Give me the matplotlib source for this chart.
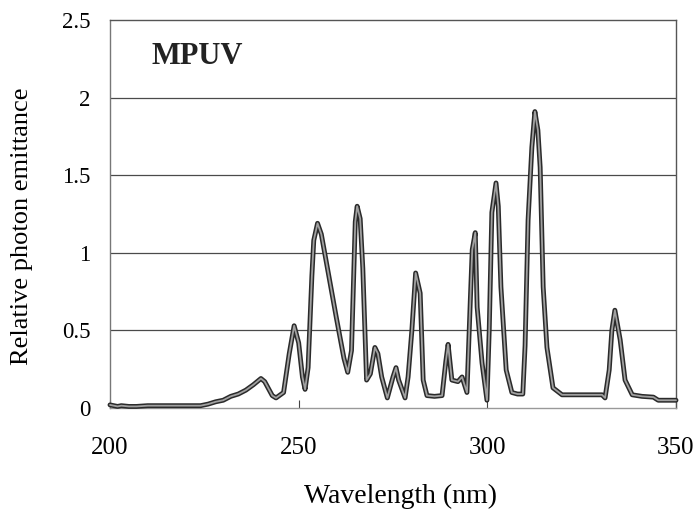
import matplotlib
matplotlib.use("Agg")
import matplotlib.pyplot as plt

wavelength = [200, 202, 203, 205, 207, 210, 215, 220, 224, 226, 228, 230, 232, 234, 236, 238,
              240, 241, 243, 244, 246, 247.5, 248.8, 250, 251, 251.7, 252.5, 253.5, 254, 255,
              256, 258, 260, 262, 263, 264, 265, 265.5, 266.3, 267, 268, 269, 270.2, 271, 272,
              273.5, 275, 275.8, 276.5, 278.2, 279, 280, 281, 282.2, 283, 284, 286, 288, 289,
              289.6, 290.6, 292.2, 293.3, 294.6, 295.5, 296, 296.8, 297.3, 298.6, 299.9, 300.5,
              301.2, 302.3, 302.9, 303.6, 305, 306.5, 308, 309.4, 310, 310.8, 311.8, 312.6,
              313.4, 314, 314.8, 315.8, 317.4, 319.8, 325, 330.4, 331.2, 332.3, 333, 333.8,
              335.2, 336.5, 338.4, 341, 344, 345.3, 350]
emittance = [0.02, 0.01, 0.015, 0.01, 0.01, 0.015, 0.015, 0.015, 0.015, 0.025, 0.04, 0.05, 0.075,
             0.09, 0.115, 0.15, 0.19, 0.17, 0.08, 0.065, 0.1, 0.35, 0.53, 0.42, 0.2, 0.12, 0.26,
             0.85, 1.08, 1.19, 1.12, 0.85, 0.58, 0.32, 0.23, 0.37, 1.2, 1.3, 1.22, 0.9, 0.18,
             0.22, 0.39, 0.35, 0.2, 0.065, 0.2, 0.26, 0.18, 0.065, 0.2, 0.5, 0.87, 0.74, 0.18,
             0.08, 0.075, 0.08, 0.3, 0.41, 0.18, 0.17, 0.2, 0.1, 0.7, 1.02, 1.13, 0.65, 0.29,
             0.05, 0.5, 1.26, 1.45, 1.3, 0.78, 0.245, 0.1, 0.09, 0.09, 0.4, 1.21, 1.68, 1.91,
             1.79, 1.55, 0.78, 0.39, 0.13, 0.085, 0.085, 0.085, 0.065, 0.245, 0.5, 0.63, 0.44,
             0.18, 0.085, 0.075, 0.07, 0.05, 0.05]

x_ticks = [200, 250, 300, 350]
y_ticks = [0, 0.5, 1, 1.5, 2, 2.5]
y_tick_labels = ["0", "0.5", "1", "1.5", "2", "2.5"]

plt.rcParams['font.family'] = ['Liberation Serif', 'DejaVu Serif']

fig = plt.figure(figsize=(6.98, 5.14), dpi=100)
ax = fig.add_axes([110/698, (514-408)/514, 566/698, 388/514])

ax.set_xlim(200, 350)
ax.set_ylim(0, 2.5)

for g in [0.5, 1, 1.5, 2]:
    ax.axhline(g, color='#4a4a4a', lw=0.9, zorder=1)

ax.plot(wavelength, emittance, color='#2a2a2a', lw=3.5, solid_joinstyle='round',
        solid_capstyle='round', zorder=3, clip_on=False)
ax.plot(wavelength, emittance, color='#a0a0a0', lw=1.3, solid_joinstyle='round',
        solid_capstyle='round', zorder=4, clip_on=False)

ax.set_xticks(x_ticks)
ax.set_xticklabels([str(t) for t in x_ticks], fontsize=18)
ax.set_yticks(y_ticks)
ax.set_yticklabels(y_tick_labels, fontsize=16.5)
ax.tick_params(axis='x', direction='in', length=6, width=0.8, color='#444', pad=21)
ax.tick_params(axis='y', length=0, pad=14)

for side, c in [('top', '#555555'), ('right', '#555555'), ('left', '#777777'), ('bottom', '#999999')]:
    ax.spines[side].set_color(c)
    ax.spines[side].set_linewidth(1.0)

ax.set_xlabel("Wavelength (nm)", fontsize=20)
ax.xaxis.set_label_coords((401-110)/566, -(496-408)/388)
ax.xaxis.label.set_va('center')
ax.set_ylabel("Relative photon emittance", fontsize=19)
ax.yaxis.set_label_coords(-(110-22)/566, (408-226)/388)
ax.yaxis.label.set_va('center')

ax.text(152/698, 1 - 57/514, "MPUV", transform=fig.transFigure, fontsize=22, fontweight='bold',
        ha='left', va='center', color='#222222')

fig.savefig("out.png", dpi=100)
